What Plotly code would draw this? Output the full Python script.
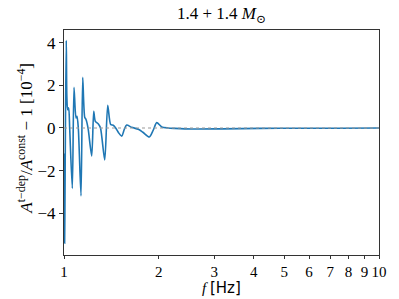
import plotly.graph_objects as go

freq = [1.0, 1.0045, 1.0075, 1.0110, 1.0169, 1.0210, 1.0272, 1.0347, 1.0423, 1.0627,
        1.0758, 1.0917, 1.0997, 1.1103, 1.1324, 1.1466, 1.1635, 1.1745, 1.1919, 1.2245,
        1.2427, 1.2572, 1.2854, 1.3057, 1.3468, 1.3766, 1.4067, 1.4336, 1.459, 1.4900,
        1.5245, 1.555, 1.5812, 1.6402, 1.7216, 1.78, 1.8659, 1.92, 1.9697, 2.043,
        2.1393, 2.251, 2.543, 3.166, 4.19, 5.61, 7.52, 10.0]
ratio = [-1.2, -5.4, -3.0, 0.5, 4.1, 1.5, 0.86, 0.94, 0.0, -2.83,
         1.9, 0.47, 0.55, 0.0, -3.18, 2.37, 0.5, 0.4, 0.0, -1.31,
         0.78, 0.31, 0.19, 0.0, -1.5, 1.06, 0.16, 0.13, 0.0, -0.22,
         -0.38, -0.05, 0.14, 0.03, -0.06, -0.2, -0.42, -0.1, 0.25, 0.05,
         0.0, -0.02, -0.05, -0.04, -0.02, -0.01, -0.01, 0.0]

xticks = [1, 2, 3, 4, 5, 6, 7, 8, 9, 10]
yticks = [-4, -2, 0, 2, 4]

serif = "Liberation Serif, DejaVu Serif, serif"

fig = go.Figure()
fig.add_trace(go.Scatter(x=freq, y=ratio, mode="lines",
                         line=dict(color="#1f77b4", width=1.6, shape="spline", smoothing=0.7),
                         showlegend=False))
fig.add_trace(go.Scatter(x=[1, 10], y=[0, 0], mode="lines",
                         line=dict(color="#999999", width=1.2, dash="dot"),
                         showlegend=False))

fig.update_layout(
    width=399, height=299,
    margin=dict(l=64, r=20, t=30, b=44, autoexpand=False),
    paper_bgcolor="white", plot_bgcolor="white",
    font=dict(family=serif, size=16, color="black"),
    title=dict(text="1.4 + 1.4 <i>M</i><sub>⊙</sub>", x=0.555, xanchor="center",
               y=0.955, yanchor="middle", font=dict(size=17, family=serif)),
    xaxis=dict(type="log", range=[0, 1], tickvals=xticks, ticktext=[str(v) for v in xticks],
               showgrid=False, zeroline=False, showline=True, linecolor="#333", linewidth=1.2,
               mirror=True, ticks="outside", ticklen=3, tickcolor="#333", tickangle=0,
               automargin=False, tickfont=dict(size=15, family=serif)),
    yaxis=dict(range=[-5.95, 4.59], tickvals=yticks, ticktext=["−4", "−2", "0", "2", "4"],
               showgrid=False, zeroline=False, showline=True, linecolor="#333", linewidth=1.2,
               mirror=True, ticks="outside", ticklen=4, tickcolor="#333", automargin=False,
               tickfont=dict(size=17, family=serif)),
    annotations=[
        dict(text="<i>f</i> <span style='font-family:DejaVu Sans'>[Hz]</span>",
             xref="paper", yref="paper", x=0.5, y=-0.148, xanchor="center", yanchor="middle",
             showarrow=False, font=dict(size=15, family=serif)),
        dict(text="<i>A</i><sup>t−dep</sup>/<i>A</i><sup>const</sup> − 1 [10<sup>−4</sup>]",
             xref="paper", yref="paper", x=-0.125, y=0.52, xanchor="center", yanchor="middle",
             textangle=-90, showarrow=False, font=dict(size=17, family=serif)),
    ],
)

fig.write_html("out.html", config={"displayModeBar": False},
               post_script="document.body.style.margin='0';document.body.style.padding='0';")
